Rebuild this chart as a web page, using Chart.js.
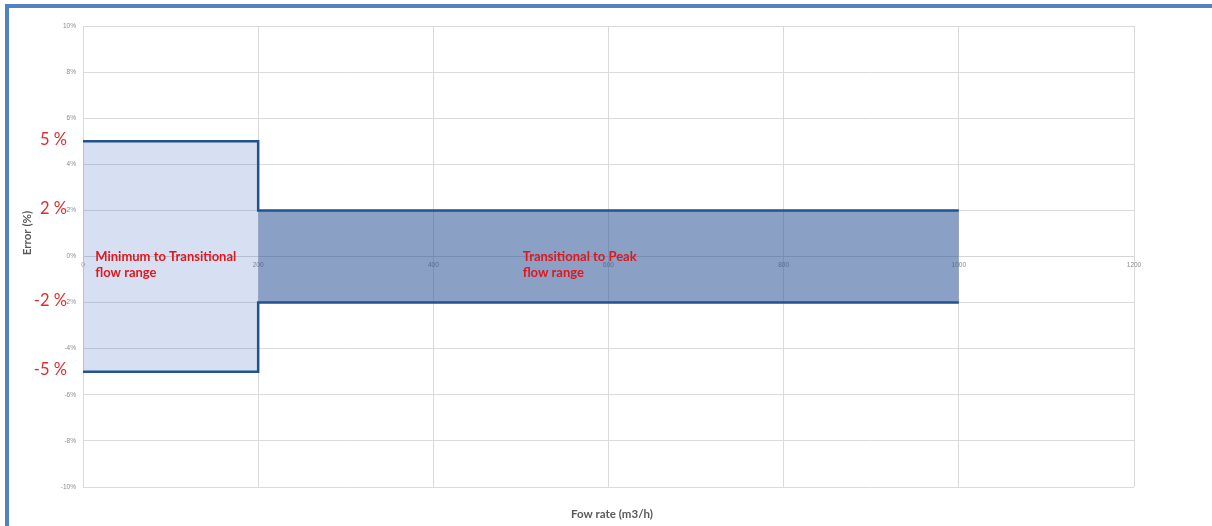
<!DOCTYPE html>
<html>
<head>
<meta charset="utf-8">
<script src="https://cdn.jsdelivr.net/npm/chart.js@4.4.1/dist/chart.umd.min.js"></script>
<style>
  html, body { margin: 0; padding: 0; background: #ffffff; overflow: hidden; }
  #wrap { position: relative; width: 1212px; height: 526px; }
  #frame { position: absolute; left: 5px; top: 4px; right: 0; bottom: 0;
           border-top: 4px solid #5083c4; border-left: 4px solid #5083c4; pointer-events: none; }
  canvas { display: block; }
</style>
</head>
<body>
<div id="wrap">
  <canvas id="c" width="1212" height="526"></canvas>
  <div id="frame"></div>
</div>
<script>
// ---- data ----
const flowBreaks = [0, 200, 1000];          // flow rate boundaries (m3/h)
const upperLimit = [5, 2];                  // upper error limit per range (%)
const lowerLimit = [-5, -2];                // lower error limit per range (%)
const rangeNames = [
  ['Minimum to Transitional', 'flow range'],
  ['Transitional to Peak', 'flow range']
];
const rangeLabelX = [14, 502];              // label anchor on the flow axis (m3/h)
const limitLabels = ['5 %', '2 %', '-2 %', '-5 %'];
const limitLabelValues = [5, 2, -2, -5];
const xTickMin = 0, xTickMax = 1200, xTickStep = 200;
const yTickMin = -10, yTickMax = 10, yTickStep = 2;
const xTitle = 'Fow rate (m3/h)';
const yTitle = 'Error (%)';

// ---- build datasets ----
function stepLine(limits) {
  const pts = [];
  for (let i = 0; i < limits.length; i++) {
    pts.push({x: flowBreaks[i], y: limits[i]});
    pts.push({x: flowBreaks[i + 1], y: limits[i]});
  }
  return pts;
}
const fillColors = ['rgba(68,114,196,0.22)', 'rgba(47,85,151,0.56)'];
const lineColor = '#23528f';

const datasets = [
  { data: stepLine(upperLimit), borderColor: lineColor, borderWidth: 2.5, pointRadius: 0, fill: false },
  { data: stepLine(lowerLimit), borderColor: lineColor, borderWidth: 2.5, pointRadius: 0, fill: false }
];
for (let i = 0; i < upperLimit.length; i++) {
  datasets.push({
    data: [{x: flowBreaks[i], y: upperLimit[i]}, {x: flowBreaks[i + 1], y: upperLimit[i]}],
    borderWidth: 0, borderColor: 'rgba(0,0,0,0)', pointRadius: 0,
    backgroundColor: fillColors[i], fill: '+1'
  });
  datasets.push({
    data: [{x: flowBreaks[i], y: lowerLimit[i]}, {x: flowBreaks[i + 1], y: lowerLimit[i]}],
    borderWidth: 0, borderColor: 'rgba(0,0,0,0)', pointRadius: 0, fill: false
  });
}

const annotations = {
  id: 'annotations',
  afterDraw(chart) {
    const ctx = chart.ctx, xs = chart.scales.x, ys = chart.scales.y;
    ctx.save();
    // red limit labels
    ctx.fillStyle = '#e32a2a';
    ctx.font = '16.5px Lato, "Open Sans", sans-serif';
    ctx.textAlign = 'right';
    ctx.textBaseline = 'middle';
    limitLabels.forEach((t, i) => {
      ctx.fillText(t, 67, ys.getPixelForValue(limitLabelValues[i]) - 2);
    });
    // range names
    ctx.font = 'bold 13px Lato, "Open Sans", sans-serif';
    ctx.textAlign = 'left';
    ctx.fillStyle = '#e3161c';
    rangeNames.forEach((lines, i) => {
      const x = xs.getPixelForValue(rangeLabelX[i]);
      const y0 = ys.getPixelForValue(0);
      lines.forEach((ln, j) => ctx.fillText(ln, x, y0 + j * 16));
    });
    // axis titles
    ctx.fillStyle = '#595959';
    ctx.font = 'bold 11.5px Lato, "Open Sans", sans-serif';
    ctx.textAlign = 'center';
    ctx.fillText(xTitle, 612, 514);
    ctx.translate(27, 233);
    ctx.rotate(-Math.PI / 2);
    ctx.fillText(yTitle, 0, 0);
    ctx.restore();
  }
};

new Chart(document.getElementById('c'), {
  type: 'line',
  data: { datasets },
  options: {
    responsive: false,
    animation: false,
    events: [],
    layout: { padding: { left: 0, top: 26, right: 78, bottom: 39 } },
    plugins: { legend: { display: false }, tooltip: { enabled: false } },
    scales: {
      x: {
        type: 'linear',
        position: { y: 0 },
        min: xTickMin, max: xTickMax,
        ticks: { stepSize: xTickStep, padding: 5, color: '#8a8a8a', maxRotation: 0,
                 callback: v => String(v),
                 font: { size: 6.5, family: '"Liberation Sans", sans-serif' } },
        grid: { color: '#dadada', lineWidth: 1, drawTicks: false },
        border: { display: true, color: '#d4d4d4' }
      },
      y: {
        type: 'linear',
        position: 'left',
        min: yTickMin, max: yTickMax,
        afterFit(scale) { scale.width = 83; },
        ticks: { stepSize: yTickStep, padding: 7, color: '#8a8a8a',
                 callback: v => v + '%',
                 font: { size: 6.5, family: '"Liberation Sans", sans-serif' } },
        grid: { color: '#dadada', lineWidth: 1, drawTicks: false },
        border: { display: true, color: '#dadada' }
      }
    }
  },
  plugins: [annotations]
});
</script>
</body>
</html>
